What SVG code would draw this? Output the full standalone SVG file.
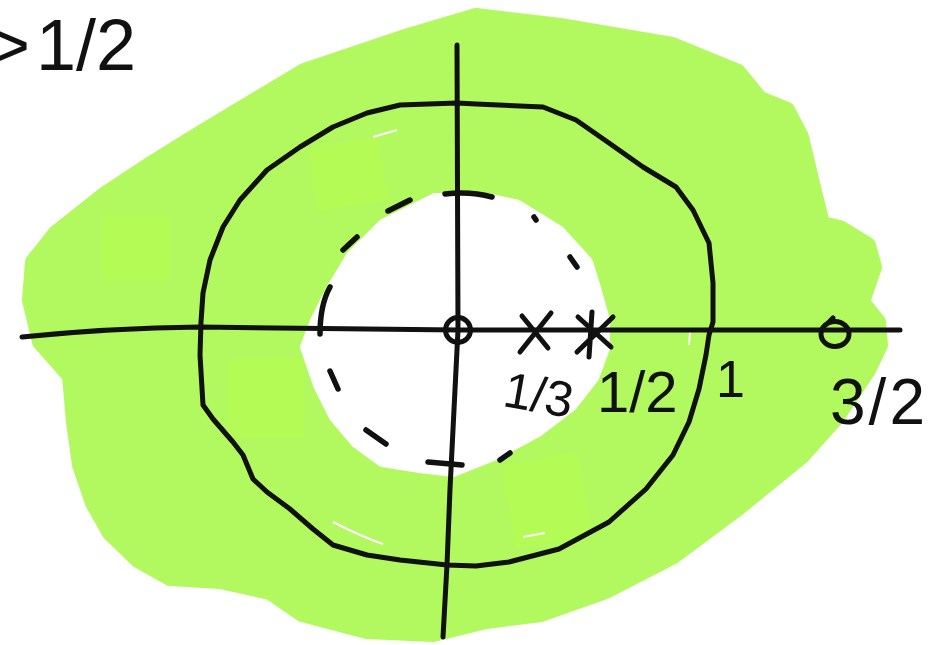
<svg xmlns="http://www.w3.org/2000/svg" width="952" height="645" viewBox="0 0 952 645">
<style>
.ink{fill:none;stroke:#111;stroke-width:5;stroke-linecap:round;stroke-linejoin:round}
.dash{fill:none;stroke:#111;stroke-width:5.5;stroke-linecap:round}
.lbl{font-family:"Liberation Sans","DejaVu Sans",sans-serif;fill:#111}
.patch{fill:#b4fb56}
</style>
<rect width="952" height="645" fill="#ffffff"/>
<g id="roc-region">
<polygon fill="#b2f95f" stroke="#b2f95f" stroke-width="16" stroke-linejoin="round" points="476,16 560,26 672,45 738,72 760,99 787,110 801,137 811,179 822,224 840,228 868,245 874,267 866,290 862,302 878,322 880,345 868,370 836,418 802,456 738,508 672,557 606,591 541,614 486,621 433,634 367,631 302,614 270,592 220,581 170,578 138,560 110,533 93,503 80,465 74,422 70,376 40,342 30,300 33,262 56,233 104,195 154,162 204,131 304,71 402,38"/>
<rect class="patch" x="102" y="216" width="68" height="64"/>
<rect class="patch" x="312" y="142" width="72" height="64" transform="rotate(-8 348 174)"/>
<rect class="patch" x="228" y="358" width="76" height="80"/>
<rect class="patch" x="508" y="458" width="78" height="84" transform="rotate(-10 547 500)"/>
<polygon fill="#ffffff" stroke="#ffffff" stroke-width="10" stroke-linejoin="round" points="435,198 383,224 351,256 331,289 315,321 305,347 318,385 334,417 356,443 382,462 420,468 453,472 493,456 538,432 572,406 594,378 605,348 605,320 596,288 588,262 560,231 518,205 487,198"/>
<path d="M373,137 L397,130 M333,522 Q360,536 383,544 M523,537 L545,533 M690,332 L689,345" stroke="#ffffff" stroke-width="2" fill="none"/>
</g>
<g id="axes">
<path class="ink" d="M22,337 Q110,328 200,327 L458,330 L700,330 L900,330"/>
<path class="ink" d="M457,45 L458,330 L450,489 L447,565 L443,637"/>
</g>
<g id="unit-circle">
<path class="ink" d="M457,103 L476,104 L543,107 L576,120 L609,143 L643,167 L676,187 L693,210 L709,243 L713,283 L713,322 L709,335 L706,355 L699,389 L689,422 L673,455 L646,489 L609,522 L559,549 L509,562 L476,566 L447,565 L400,560 L367,555 L333,545 L313,529 L290,509 L267,492 L253,479 L243,455 L233,442 L213,419 L203,405 L200,355 L201,322 L203,293 L210,260 L223,227 L240,200 L267,170 L300,147 L333,127 L367,113 L400,105 Z"/>
</g>
<g id="half-circle-dashed">
<path class="dash" d="M445,194 Q470,191 492,197"/>
<path class="dash" d="M388,211 L410,200"/>
<path class="dash" d="M343,250 L357,237"/>
<path class="dash" d="M320,334 Q320,305 330,287"/>
<path class="dash" d="M330,371 L338,389"/>
<path class="dash" d="M366,430 L386,444"/>
<path class="dash" d="M428,462 L462,465"/>
<path class="dash" d="M500,460 L510,453"/>
<path class="dash" d="M534,217 L536,220"/>
<path class="dash" d="M570,257 L577,267"/>
</g>
<g id="zero-origin">
<circle cx="458" cy="330" r="12.5" class="ink"/>
</g>
<g id="pole-third">
<path class="ink" d="M522,316 L548,348 M551,313 L520,352"/>
</g>
<g id="pole-half">
<path class="ink" d="M578,317 L611,347 M613,317 L577,352 M592,312 L589,357"/>
</g>
<g id="zero-three-halves">
<ellipse cx="835" cy="334" rx="14" ry="12.5" class="ink"/>
<path class="ink" d="M829,322 L833,318"/>
</g>
<g id="labels">
<text class="lbl" x="-12" y="70" font-size="72">&gt;<tspan dx="6">1/2</tspan></text>
<text class="lbl" x="503" y="412" font-size="50" transform="rotate(10 538 400)">1/3</text>
<text class="lbl" x="597" y="412" font-size="58">1/2</text>
<text class="lbl" x="716" y="397" font-size="52">1</text>
<text class="lbl" x="830" y="424" font-size="64" letter-spacing="3">3/2</text>
</g>
</svg>
